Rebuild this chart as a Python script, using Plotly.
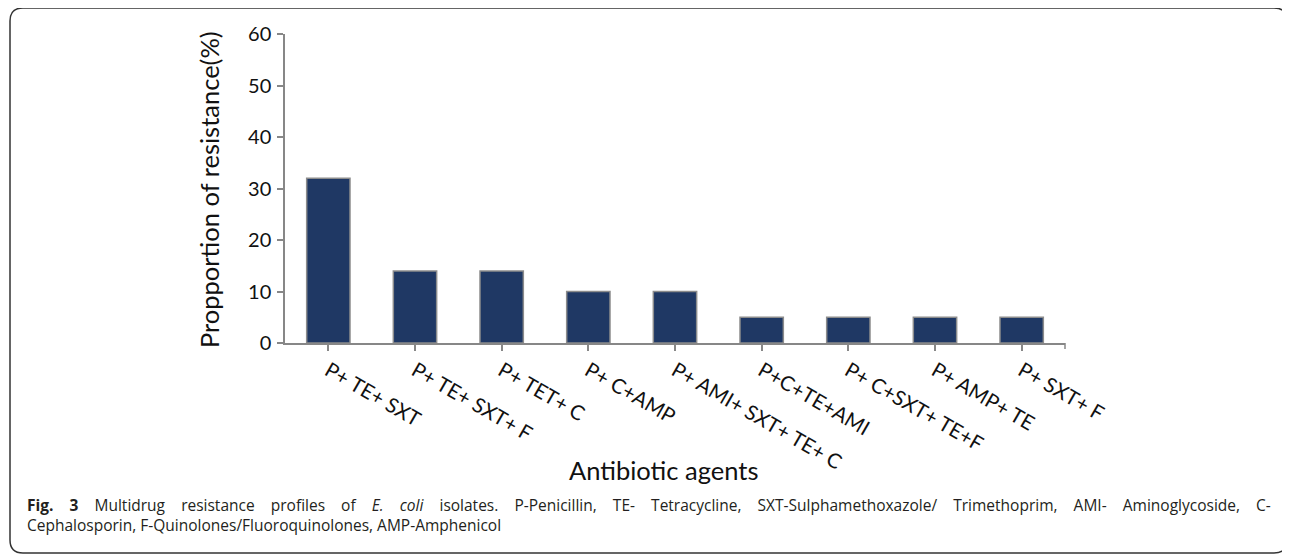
import plotly.graph_objects as go

categories = ["P+ TE+ SXT", "P+ TE+ SXT+ F", "P+ TET+ C", "P+ C+AMP",
              "P+ AMI+ SXT+ TE+ C", "P+C+TE+AMI", "P+ C+SXT+ TE+F",
              "P+ AMP+ TE", "P+ SXT+ F"]
values = [32, 14, 14, 10, 10, 5, 5, 5, 5]
y_ticks = [0, 10, 20, 30, 40, 50, 60]

W, H = 1290, 555
OFF = 8  # page body margin offset
# plot area in page pixels
PL, PR, PT, PB = 285, 1065, 34, 343
L, R, T, B = PL - OFF, PR - OFF, PT - OFF, PB - OFF

FONT = "Lato"
AXIS_GRAY = "#878787"

fig = go.Figure(go.Bar(
    x=categories, y=values,
    marker=dict(color="#1F3864", line=dict(color="#8C8C8C", width=1.5)),
    width=0.5,
))

def px2x(px):
    return (px - PL) / (PR - PL)

def px2y(py):
    return (PB - py) / (PB - PT)

# rounded border (page pixels)
x0, x1 = px2x(10), px2x(1287)
y0, y1 = px2y(8), px2y(553)
rx = 13 / (PR - PL)
ry = 13 / (PB - PT)
path = (f"M {x0+rx},{y0} L {x1-rx},{y0} Q {x1},{y0} {x1},{y0-ry} "
        f"L {x1},{y1+ry} Q {x1},{y1} {x1-rx},{y1} "
        f"L {x0+rx},{y1} Q {x0},{y1} {x0},{y1+ry} "
        f"L {x0},{y0-ry} Q {x0},{y0} {x0+rx},{y0} Z")

gap = " " + "&nbsp;" * 3
line1_words = ["<b>Fig.", "3</b>", "Multidrug", "resistance", "profiles", "of",
               "<i>E.", "coli</i>", "isolates.", "P-Penicillin,", "TE-", "Tetracycline,",
               "SXT-Sulphamethoxazole/", "Trimethoprim,", "AMI-", "Aminoglycoside,", "C-"]
line1 = gap.join(line1_words).replace("<b>Fig." + gap + "3</b>", "<b>Fig." + gap + "3</b>")
line2 = "Cephalosporin, F-Quinolones/Fluoroquinolones, AMP-Amphenicol"

fig.update_layout(
    width=W, height=H,
    margin=dict(l=L, r=W - R, t=T, b=H - B, autoexpand=False),
    paper_bgcolor="white", plot_bgcolor="white",
    showlegend=False,
    font=dict(family=FONT, color="#222222"),
    xaxis=dict(
        type="category", range=[-0.5, len(categories) - 0.5],
        showline=True, linecolor=AXIS_GRAY, linewidth=1.5,
        ticks="outside", ticklen=6, tickcolor=AXIS_GRAY, tickwidth=1.5,
        tickangle=30, tickfont=dict(size=20.5, family=FONT, color="#111111"),
        showgrid=False, zeroline=False,
    ),
    yaxis=dict(
        range=[0, 60], tickvals=y_ticks,
        showline=True, linecolor=AXIS_GRAY, linewidth=1.5,
        ticks="outside", ticklen=6, tickcolor=AXIS_GRAY, tickwidth=1.5,
        tickfont=dict(size=20, family=FONT, color="#111111"),
        ticklabelstandoff=2,
        showgrid=False, zeroline=False,
    ),
    shapes=[
        dict(type="line", xref="paper", yref="paper", x0=1, x1=1,
             ysizemode="pixel", yanchor=0, y0=0, y1=-6,
             line=dict(color=AXIS_GRAY, width=1.5)),
        dict(type="path", xref="paper", yref="paper", path=path,
             line=dict(color="#333333", width=1.5), fillcolor="rgba(0,0,0,0)"),
    ],
    annotations=[
        dict(text="Propportion of resistance(%)", textangle=-90,
             xref="paper", yref="paper", x=px2x(209), y=px2y(190),
             showarrow=False, font=dict(size=25.5, family=FONT, color="#111111"),
             xanchor="center", yanchor="middle"),
        dict(text="Antibiotic agents",
             xref="paper", yref="paper", x=px2x(663), y=px2y(470),
             showarrow=False, font=dict(size=25.5, family=FONT, color="#111111"),
             xanchor="center", yanchor="middle"),
        dict(text=line1 + "<br>" + line2,
             xref="paper", yref="paper", x=px2x(25), y=px2y(492),
             showarrow=False, align="left", xanchor="left", yanchor="top",
             font=dict(size=15.5, family="Open Sans", color="#231F20")),
    ],
)

fig.write_html("out.html")
